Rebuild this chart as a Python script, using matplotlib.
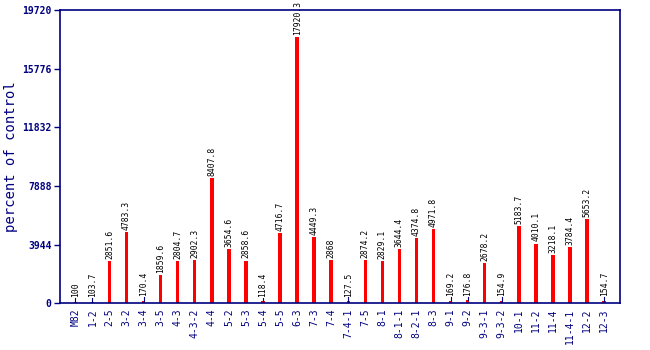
import matplotlib
matplotlib.use("Agg")
import matplotlib.pyplot as plt

lines = ['M82', '1-2', '2-5', '3-2', '3-4', '3-5', '4-3', '4-3-2', '4-4', '5-2',
         '5-3', '5-4', '5-5', '6-3', '7-3', '7-4', '7-4-1', '7-5', '8-1', '8-1-1',
         '8-2-1', '8-3', '9-1', '9-2', '9-3-1', '9-3-2', '10-1', '11-2', '11-4',
         '11-4-1', '12-2', '12-3']
values = [100, 103.7, 2851.6, 4783.3, 170.4, 1859.6, 2804.7, 2902.3, 8407.8, 3654.6,
          2858.6, 118.4, 4716.7, 17920.3, 4449.3, 2868, 127.5, 2874.2, 2829.1, 3644.4,
          4374.8, 4971.8, 169.2, 176.8, 2678.2, 154.9, 5183.7, 4010.1, 3218.1, 3784.4,
          5653.2, 154.7]
yticks = [0, 3944, 7888, 11832, 15776, 19720]

navy = '#000080'
mono = 'DejaVu Sans Mono'

fig = plt.figure(figsize=(6.5, 3.5), dpi=100)
ax = fig.add_axes([0.0923, 0.134, 0.862, 0.837])

x = list(range(len(lines)))
ax.bar(x, values, width=0.2, color='red', zorder=2)

# small values get a navy tick above the bar
for xi, v in zip(x, values):
    if v < 500:
        ax.plot([xi, xi], [v, v + 250], color=navy, lw=0.8, zorder=3)
    ax.text(xi, v + (300 if v < 500 else 150), f'{v:g}', rotation=90,
            ha='center', va='bottom', fontsize=5.8, family=mono, color='black')

ax.set_xlim(-0.9, len(lines) - 0.05)
ax.set_ylim(0, 19720)
ax.set_yticks(yticks)
ax.set_yticklabels([str(t) for t in yticks], fontsize=7, family=mono,
                   fontweight='bold', color=navy)
ax.set_xticks(x)
ax.set_xticklabels(lines, rotation=90, fontsize=7, family=mono, color=navy)
ax.tick_params(axis='y', colors=navy, length=4, width=1, pad=2)
ax.tick_params(axis='x', colors=navy, length=0, pad=4)
ax.set_ylabel('percent of control', fontsize=10, family=mono, color=navy,
              va='center')
ax.yaxis.set_label_coords(-0.087, 0.5)
for s in ax.spines.values():
    s.set_color(navy)
    s.set_linewidth(1.2)

fig.savefig('out.png', dpi=100)
